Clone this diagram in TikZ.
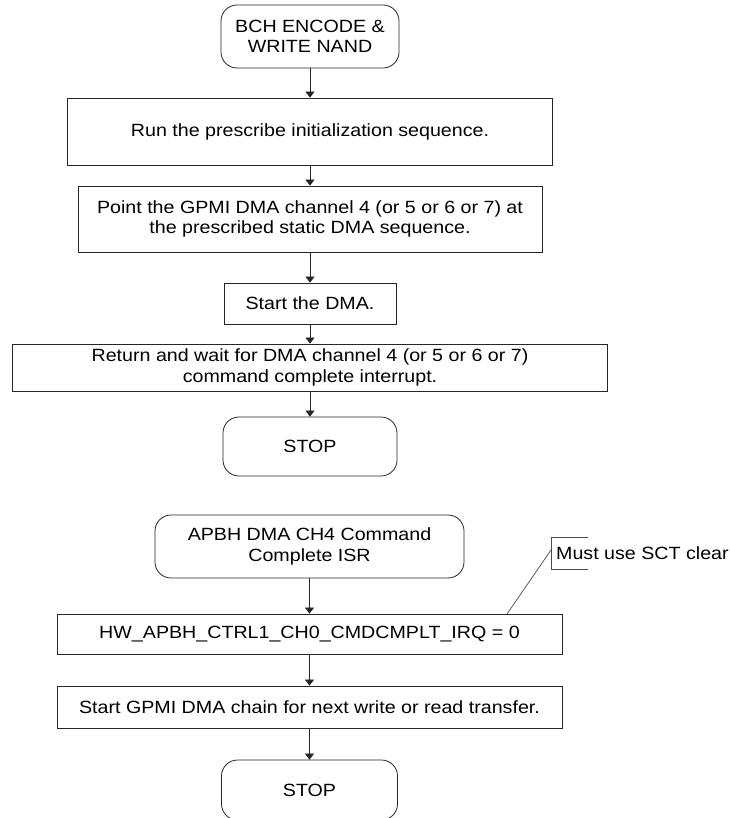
\documentclass[tikz,border=0pt]{standalone}
\usepackage{fontspec}
\setmainfont{Liberation Sans}[FakeStretch=1.11]
\usetikzlibrary{arrows.meta}
\newcommand\diafont{\fontsize{17.7}{20.5}\selectfont}
\begin{document}
\begin{tikzpicture}[x=1pt,y=-1pt,
  procbox/.style n args={2}{draw=black!85, line width=0.8pt, minimum width=#1, minimum height=#2, inner sep=0pt, align=center, font=\diafont},
  termbox/.style n args={2}{procbox={#1}{#2}, rounded corners=16pt},
  conn/.style={draw=black!85, line width=0.7pt, -{Triangle[width=9pt,length=6pt]}},
  annline/.style={draw=black!70, line width=0.7pt}]
\useasboundingbox (0,0) rectangle (729,818);
% first flow
\node[termbox={178pt}{63pt}] (t1) at (310,36.5) {BCH ENCODE \&\\WRITE NAND};
\node[procbox={485pt}{67pt}] (b1) at (310,131.5) {Run the prescribe initialization sequence.};
\node[procbox={464pt}{66pt}] (b2) at (310,219) {Point the GPMI DMA channel 4 (or 5 or 6 or 7) at\\the prescribed static DMA sequence.};
\node[procbox={172pt}{41pt}] (b3) at (310,303.5) {Start the DMA.};
\node[procbox={595pt}{47pt}] (b4) at (310,367.5) {Return and wait for DMA channel 4 (or 5 or 6 or 7)\\command complete interrupt.};
\node[termbox={174pt}{59pt}] (s1) at (310,446.5) {STOP};
\draw[conn] (t1.south) -- (b1.north);
\draw[conn] (b1.south) -- (b2.north);
\draw[conn] (b2.south) -- (b3.north);
\draw[conn] (b3.south) -- (b4.north);
\draw[conn] (b4.south) -- (s1.north);
% second flow
\node[termbox={309pt}{63pt}] (t2) at (309.5,546.5) {APBH DMA CH4 Command\\Complete ISR};
\node[procbox={505pt}{40pt}] (hw) at (309.5,634) {HW\_APBH\_CTRL1\_CH0\_CMDCMPLT\_IRQ = 0};
\node[procbox={505pt}{42pt}] (sg) at (309.5,707) {Start GPMI DMA chain for next write or read transfer.};
\node[termbox={176pt}{60pt}] (s2) at (309.5,790) {STOP};
\draw[conn] (t2.south) -- (hw.north);
\draw[conn] (hw.south) -- (sg.north);
\draw[conn] (sg.south) -- (s2.north);
% annotation
\coordinate (ntr) at (588,537);
\coordinate (ntl) at (551,537);
\coordinate (nbl) at (551,569);
\coordinate (nbr) at (588,569);
\coordinate (nmid) at (551,550);
\coordinate (hwp) at (507,614);
\draw[annline] (ntr) -- (ntl) -- (nbl) -- (nbr);
\node[anchor=west, inner sep=0pt, font=\diafont] (note) at (556,553) {Must use SCT clear};
\draw[annline] (hwp) -- (nmid);
\end{tikzpicture}
\end{document}
